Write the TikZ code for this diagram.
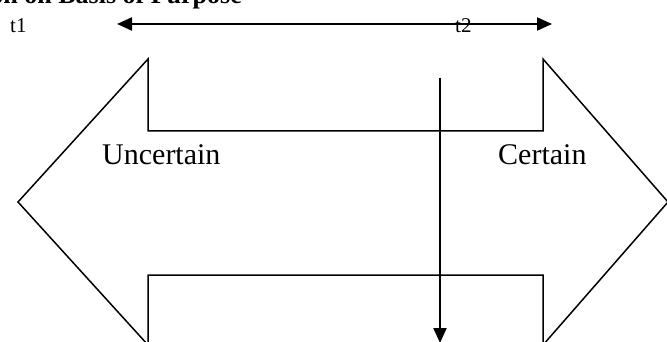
\documentclass[tikz,border=0pt]{standalone}
\usepackage{fontspec}
\setmainfont{Liberation Serif}
\usetikzlibrary{arrows.meta}
\begin{document}
\begin{tikzpicture}[x=1pt,y=-1pt,
  outline/.style={draw=black,line width=1.5pt,line join=miter},
  conn/.style={draw=black,line width=2pt,-{Triangle[length=15pt,width=13pt]}},
  lbl/.style={inner sep=0pt,anchor=base west,font=\fontsize{30}{36}\selectfont},
  tlbl/.style={inner sep=0pt,anchor=base west,font=\fontsize{21}{25}\selectfont}]
\useasboundingbox (0,0) rectangle (667,342);
\clip (0,0) rectangle (667,342);
% title (cut off at top)
\node[inner sep=0pt,anchor=base east,font=\bfseries\fontsize{26}{30}\selectfont] (title) at (242,4) {Classification on Basis of Purpose};
% double arrow outline
\draw[outline] (18,202) -- (148,59) -- (148,131) -- (543,131) -- (543,59) -- (668,202)
  -- (543,345) -- (543,275) -- (148,275) -- (148,345) -- cycle;
\node[lbl] (unc) at (102,165) {Uncertain};
\node[lbl] (cer) at (498,165) {Certain};
% time labels
\node[tlbl] (t1) at (10,33) {t1};
\node[tlbl] (t2) at (455,33) {t2};
% top double arrow
\coordinate (tl) at (117,24);
\coordinate (tr) at (552,24);
\draw[draw=black,line width=2pt,{Triangle[length=15pt,width=13pt]}-{Triangle[length=15pt,width=13pt]}] (tl) -- (tr);
% vertical arrow
\coordinate (vtop) at (440,78);
\coordinate (vbot) at (440,343);
\draw[conn] (vtop) -- (vbot);
\end{tikzpicture}
\end{document}
